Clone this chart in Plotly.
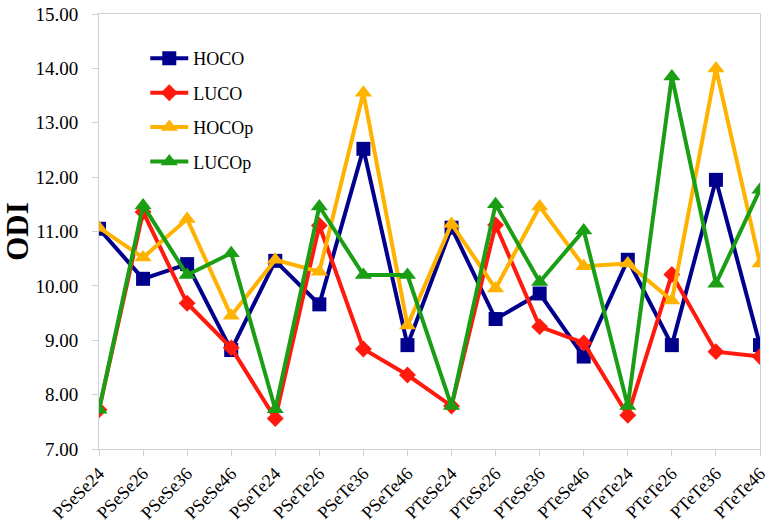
import plotly.graph_objects as go

categories = ["PSeSe24", "PSeSe26", "PSeSe36", "PSeSe46", "PSeTe24", "PSeTe26", "PSeTe36", "PSeTe46",
              "PTeSe24", "PTeSe26", "PTeSe36", "PTeSe46", "PTeTe24", "PTeTe26", "PTeTe36", "PTeTe46"]
hoco = [11.05, 10.13, 10.40, 8.82, 10.46, 9.66, 12.52, 8.91, 11.07, 9.39, 9.86, 8.70, 10.48, 8.91, 11.95, 8.91]
luco = [7.72, 11.36, 9.68, 8.86, 7.56, 11.11, 8.84, 8.36, 7.79, 11.12, 9.25, 8.95, 7.62, 10.21, 8.79, 8.70]
hocop = [11.07, 10.52, 11.23, 9.45, 10.48, 10.26, 13.55, 9.27, 11.14, 9.95, 11.46, 10.36, 10.41, 9.73, 14.00, 10.41]
lucop = [7.72, 11.48, 10.20, 10.60, 7.73, 11.46, 10.20, 10.20, 7.79, 11.50, 10.07, 11.02, 7.79, 13.85, 10.04, 11.77]
yticks = [7, 8, 9, 10, 11, 12, 13, 14, 15]

series = [
    ("HOCO", hoco, "#00008C", "square", 14),
    ("LUCO", luco, "#FF1A0D", "diamond", 13),
    ("HOCOp", hocop, "#FFB200", "triangle-up", 15),
    ("LUCOp", lucop, "#1A9E14", "triangle-up", 15),
]

fig = go.Figure()
for name, vals, color, sym, sz in series:
    fig.add_trace(go.Scatter(
        x=categories, y=vals, name=name, mode="lines+markers",
        line=dict(color=color, width=4),
        marker=dict(symbol=sym, size=sz, color=color),
        legendgroup=name,
    ))

font_family = "Liberation Serif"
fig.update_layout(
    width=773, height=527,
    margin=dict(l=98, r=7, t=4, b=75),
    paper_bgcolor="white", plot_bgcolor="white",
    font=dict(family=font_family, size=17, color="black"),
    showlegend=True,
    legend=dict(x=0.07, y=0.94, xanchor="left", yanchor="top",
                bgcolor="rgba(0,0,0,0)", font=dict(size=18, family=font_family),
                tracegroupgap=8, itemwidth=38),
    xaxis=dict(type="category", range=[0, len(categories) - 1], tickangle=-45,
               showline=True, linecolor="#C9D2D6", linewidth=1, mirror=True,
               ticks="outside", ticklen=6, tickcolor="#C9D2D6",
               showgrid=False, zeroline=False, ticklabeloverflow="allow",
               tickfont=dict(size=18, family=font_family)),
    yaxis=dict(range=[7, 15], tickvals=yticks, tickformat=".2f",
               showline=True, linecolor="#C9D2D6", linewidth=1, mirror=True,
               ticks="outside", ticklen=6, tickcolor="#C9D2D6",
               showgrid=False, zeroline=False, ticklabeloverflow="allow",
               ticklabelstandoff=10,
               tickfont=dict(size=19, family=font_family),
               title=dict(text="<b>ODI</b>", font=dict(size=31, family=font_family), standoff=10)),
)

fig.write_html("out.html")
